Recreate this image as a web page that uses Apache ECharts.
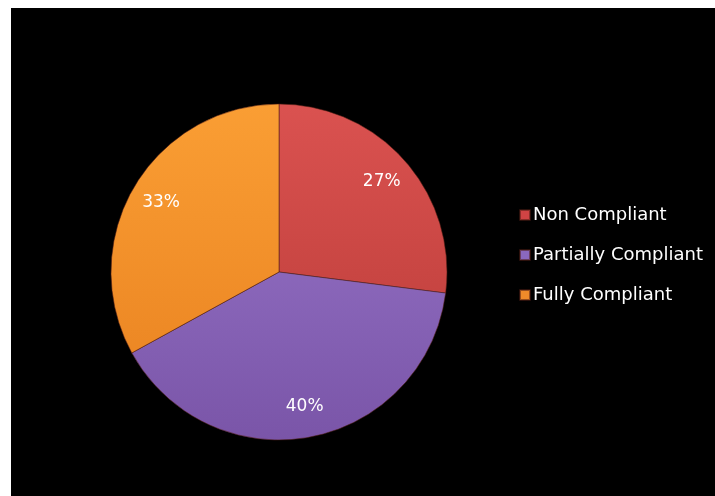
<!DOCTYPE html>
<html><head><meta charset="utf-8">
<script src="https://cdn.jsdelivr.net/npm/echarts@6/dist/echarts.min.js"></script>
<style>html,body{margin:0;padding:0;background:#fff}#c{position:absolute;left:11px;top:8px;width:704px;height:488px;background:#000}</style>
</head><body><div id="c"></div>
<script>
const categories = ['Non Compliant', 'Partially Compliant', 'Fully Compliant'];
const values = [27, 40, 33];
const topColors = ['#DA5250', '#9A78CC', '#FA9E34'];
const bottomColors = ['#B83A36', '#7A55A8', '#E8801F'];
const legendColors = ['#D04444', '#8A68BE', '#F08A2A'];

const chart = echarts.init(document.getElementById('c'));
const cx = 268, cy = 264, R = 168;
function grad(i) {
  return {type:'linear', x:0, y:cy - R, x2:0, y2:cy + R, global:true,
    colorStops:[{offset:0,color:topColors[i]},{offset:1,color:bottomColors[i]}]};
}
const mainData = categories.map((n,i)=>({name:n, value:values[i],
  itemStyle:{color:grad(i), borderColor:'rgba(80,30,20,0.55)', borderWidth:1}}));
const labelData = categories.map((n,i)=>({name:n, value:values[i]}));
chart.setOption({
  backgroundColor:'#000',
  animation:false,
  legend:{
    orient:'vertical', left:503, top:193, itemGap:22,
    itemWidth:10, itemHeight:10, icon:'rect',
    textStyle:{color:'#fff', fontSize:18, fontFamily:'DejaVu Sans', padding:[0,0,0,-2]},
    data:categories.map((n,i)=>({name:n, itemStyle:{color:legendColors[i]}}))
  },
  series:[{
    type:'pie', center:[cx,cy], radius:[0,R], startAngle:90, clockwise:true,
    data:mainData, label:{show:false}, labelLine:{show:false}, silent:true
  },{
    type:'pie', center:[cx,cy], radius:[100,R], startAngle:90, clockwise:true,
    data:labelData, silent:true,
    itemStyle:{color:'rgba(0,0,0,0)', borderWidth:0},
    label:{show:true, position:'inside', formatter:'{d}%', color:'#fff', fontSize:17, fontFamily:'DejaVu Sans'},
    labelLine:{show:false}
  }]
});
</script></body></html>
